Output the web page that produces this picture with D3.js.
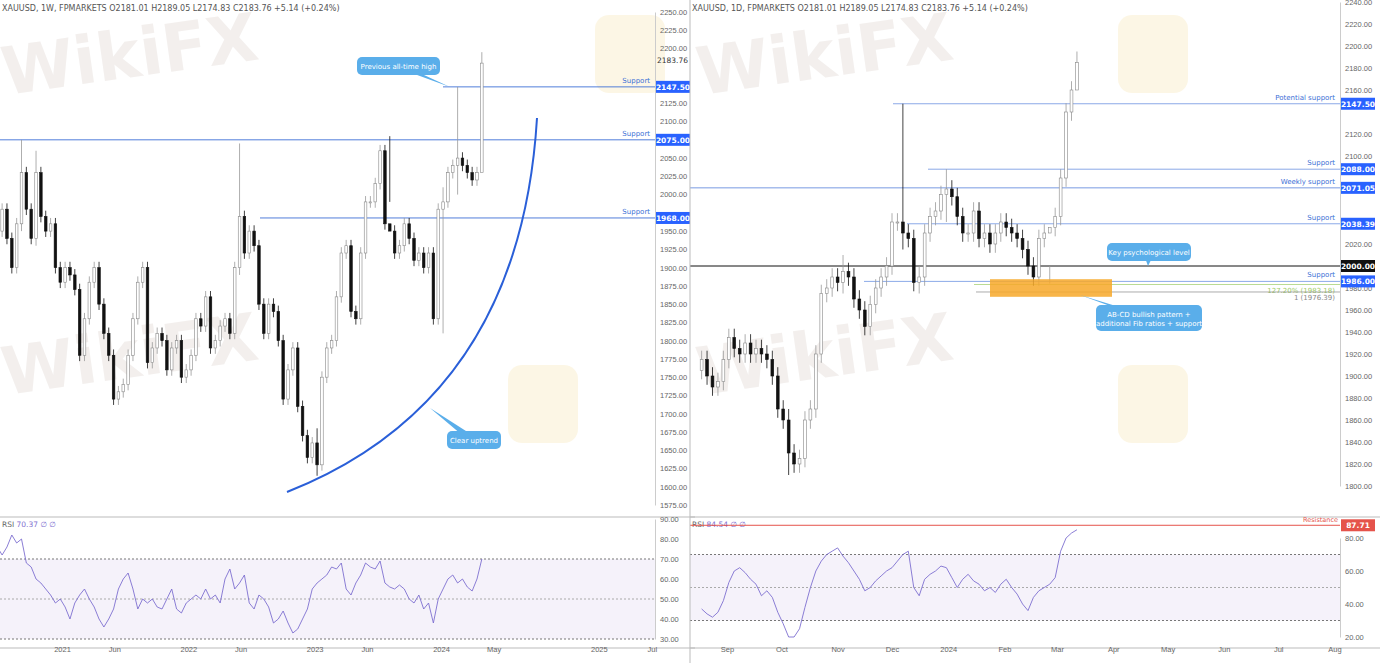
<!DOCTYPE html>
<html><head><meta charset="utf-8">
<script src="https://cdn.jsdelivr.net/npm/d3@7"></script>
<style>body{margin:0;background:#fff;font-family:"DejaVu Sans",sans-serif}</style>
</head><body>
<script>
// weekly panel: closes every 2 weeks
const wClose = [1890,1950,1980,1940,
  1900,1960,2030,1980,1940,2030,1970,1950,1960,1900,1880,1900,1890,1870,1780,1830,1880,
  1900,1850,1810,1780,1720,1730,1740,1780,1830,1880,1900,1770,1790,1810,1800,1760,1790,1800,1750,1760,1780,1830,1820,1860,1790,1800,
  1820,1830,1810,1900,1970,1920,1950,1930,1850,1810,1850,1840,1800,1720,1760,1790,1710,1670,1640,1660,1630,1750,1790,1800,
  1860,1920,1930,1840,1830,1920,1990,1990,2015,2060,1960,1950,1920,1930,1960,1940,1910,1920,1900,1920,1830,1980,1990,2030,2040,2050,
  2040,2030,2020,2030,2180];
const wRsi = [80,82,78,76,
  72,76,82,78,80,68,66,60,58,55,52,48,50,46,40,48,52,
  55,50,46,40,36,40,45,55,60,63,55,45,50,48,50,46,45,50,55,45,43,48,50,52,50,55,
  50,52,48,60,65,55,58,62,48,45,52,50,46,38,40,44,38,33,35,40,45,55,58,60,62,66,
  65,68,55,52,58,62,68,66,65,69,58,56,55,57,55,50,48,52,45,48,38,50,55,60,62,58,
  60,56,54,60,70];
const wExtremes = [[6,2075,1950],[9,2060,1930],[51,2070,1890],[67,1680,1615],[82,2080,1990],[93,2010,1810],[96,2147.5,2000],[101,2195,2075]];
// daily panel: closes every 3 days, ending 2024-03-12
const dClose = [1915,1900,1890,1895,1915,1935,1925,1920,1930,1920,1925,1920,1915,1900,1870,1860,1830,
  1820,1825,1860,1870,1920,1975,1980,1990,1985,1995,
  1990,1970,1960,1945,1965,1980,1990,2000,2040,2040,
  2030,2025,1985,1990,2030,2045,2050,2065,2070,2063,
  2045,2030,2030,2050,2025,2030,2020,2030,2040,2035,
  2030,2025,2015,2000,1990,2025,2030,2035,2045,
  2080,2140,2160,2185];
const dRsi = [37,34,32,35,42,53,60,62,59,55,52,45,48,44,35,28,20,
  20,25,38,50,60,66,70,72,74,69,
  65,60,55,48,50,54,57,60,62,66,
  70,72,50,45,55,58,60,63,62,56,
  50,55,58,54,52,48,50,47,52,55,
  50,46,40,36,44,48,50,52,56,
  72,80,83,85];
const dExtremes = [[16,1870,1810],[26,2010,1975],[37,2147.5,2015],[40,2000,1975],[45,2088,2040],[64,2000,1984],[69,2195,2170]];
const header = ['XAUUSD, 1W, FPMARKETS  O2181.01  H2189.05  L2174.83  C2183.76  +5.14 (+0.24%)',
                'XAUUSD, 1D, FPMARKETS  O2181.01  H2189.05  L2174.83  C2183.76  +5.14 (+0.24%)'];

const W = 1380, H = 663;
const svg = d3.select('body').append('svg').attr('width', W).attr('height', H)
  .style('font-family', '"DejaVu Sans",sans-serif');

// watermarks
[[5,95],[700,95],[5,395],[700,395]].forEach(([x, y]) => {
  svg.append('text').attr('x', x).attr('y', y).attr('font-size', 66).attr('font-weight', 'bold')
    .attr('fill', '#d8ccc6').attr('opacity', 0.3).attr('transform', `rotate(-8,${x},${y})`).text('WikiFX');
});
[[595,15],[1118,15],[508,365],[1118,365]].forEach(([x, y]) => {
  svg.append('rect').attr('x', x).attr('y', y).attr('width', 70).attr('height', 78)
    .attr('rx', 14).attr('fill', '#f6e2a8').attr('opacity', 0.3);
});

function panel(cfg) {
  const g = svg.append('g');
  const datesFor = arr => arr.map((_, i) => d3.timeDay.offset(cfg.end, -cfg.step * (arr.length - 1 - i)));
  const dates = datesFor(cfg.close), rDates = datesFor(cfg.rsi);
  const x = d3.scaleTime().domain(cfg.xDom).range(cfg.xRange);
  const y = d3.scaleLinear().domain(cfg.yDom).range(cfg.yRange);
  const r = d3.scaleLinear().domain(cfg.rDom).range(cfg.rRange);
  const ext = new Map(cfg.ext.map(e => [e[0], e]));
  const candles = cfg.close.map((c, i) => {
    const o = i ? cfg.close[i - 1] : c - 10;
    const e = ext.get(i);
    return {d: dates[i], o, c, h: e ? e[1] : Math.max(o, c) + 8, l: e ? e[2] : Math.min(o, c) - 8};
  });
  g.append('text').attr('x', cfg.x0 + 2).attr('y', 11).attr('font-size', 8).attr('fill', '#555').text(cfg.title);

  const ax = g.append('g').attr('transform', `translate(${cfg.x1},0)`)
    .call(d3.axisRight(y).tickValues(cfg.yTicks).tickSize(0).tickFormat(d3.format('.2f')));
  ax.select('.domain').attr('stroke', '#ccc');
  ax.selectAll('text').attr('font-size', 7.5).attr('fill', '#666').attr('dx', 2);

  cfg.levels.forEach(L => {
    g.append('line').attr('x1', L.from).attr('x2', cfg.x1).attr('y1', y(L.v)).attr('y2', y(L.v))
      .attr('stroke', L.color || '#3d6fd6').attr('stroke-width', L.w || 0.9);
    if (L.label) g.append('text').attr('x', cfg.x1 - 5).attr('y', y(L.v) + (L.below ? 8 : -4)).attr('text-anchor', 'end')
      .attr('font-size', 7).attr('fill', L.lc || '#3d6fd6').text(L.label);
    if (L.tag) {
      g.append('rect').attr('x', cfg.x1 + 1).attr('y', y(L.v) - 6).attr('width', 34).attr('height', 12)
        .attr('fill', L.tagFill || '#2962ff');
      g.append('text').attr('x', cfg.x1 + 18).attr('y', y(L.v) + 3).attr('text-anchor', 'middle')
        .attr('font-size', 7.5).attr('font-weight', 'bold').attr('fill', '#fff').text(L.v.toFixed(2));
    }
  });

  const cg = g.append('g');
  candles.forEach(k => {
    const xc = x(k.d), up = k.c >= k.o;
    cg.append('line').attr('x1', xc).attr('x2', xc).attr('y1', y(k.h)).attr('y2', y(k.l))
      .attr('stroke', up ? '#999' : '#111').attr('stroke-width', 0.8);
    cg.append('rect').attr('x', xc - cfg.bw / 2).attr('width', cfg.bw)
      .attr('y', y(Math.max(k.o, k.c))).attr('height', Math.max(1, Math.abs(y(k.o) - y(k.c))))
      .attr('fill', up ? '#fff' : '#111').attr('stroke', up ? '#888' : '#111').attr('stroke-width', 0.6);
  });

  g.append('line').attr('x1', cfg.x0).attr('x2', cfg.x1 + 40).attr('y1', 517).attr('y2', 517).attr('stroke', '#bbb');
  g.append('line').attr('x1', cfg.x0).attr('x2', cfg.x1 + 40).attr('y1', 648).attr('y2', 648).attr('stroke', '#bbb');

  g.append('rect').attr('x', cfg.x0).attr('width', cfg.x1 - cfg.x0).attr('y', r(70)).attr('height', r(30) - r(70))
    .attr('fill', '#7e57c2').attr('opacity', 0.08);
  [70, 50, 30].forEach(v => g.append('line').attr('x1', cfg.x0).attr('x2', cfg.x1).attr('y1', r(v)).attr('y2', r(v))
    .attr('stroke', v === 50 ? '#aaa' : '#777').attr('stroke-dasharray', '2,2'));
  g.append('path').datum(cfg.rsi).attr('fill', 'none').attr('stroke', '#7e6fd0').attr('stroke-width', 0.9)
    .attr('d', d3.line().x((_, i) => x(rDates[i])).y(v => r(v)));
  const ra = g.append('g').attr('transform', `translate(${cfg.x1},0)`)
    .call(d3.axisRight(r).tickValues(cfg.rTicks).tickSize(0).tickFormat(d3.format('.2f')));
  ra.select('.domain').attr('stroke', '#ccc');
  ra.selectAll('text').attr('font-size', 7.5).attr('fill', '#666').attr('dx', 2);
  g.append('text').attr('x', cfg.x0 + 2).attr('y', 527).attr('font-size', 7.5).attr('fill', '#666')
    .text('RSI  ').append('tspan').attr('fill', '#7e6fd0').text(cfg.rsiLabel + '  ∅  ∅');

  const da = g.append('g').attr('transform', 'translate(0,648)')
    .call(d3.axisBottom(x).tickValues(cfg.xTicks.map(t => t[0])).tickSize(0)
      .tickFormat((d, i) => cfg.xTicks[i][1]));
  da.select('.domain').remove();
  da.selectAll('text').attr('font-size', 7.5).attr('fill', '#666').attr('dy', 1);
  return {x, y, r, g};
}

function bubble(lines, bx, by, bw, bh, px, py) {
  const cx = bx + bw / 2;
  svg.append('path').attr('d', `M${cx - 6},${by + bh / 2} L${px},${py} L${cx + 6},${by + bh / 2}Z`).attr('fill', '#5aaeea');
  svg.append('rect').attr('x', bx).attr('y', by).attr('width', bw).attr('height', bh).attr('rx', 5).attr('fill', '#5aaeea');
  lines.forEach((t, i) => svg.append('text').attr('x', cx).attr('y', by + bh / 2 + 3 + (i - (lines.length - 1) / 2) * 9)
    .attr('text-anchor', 'middle').attr('font-size', 7).attr('fill', '#fff').text(t));
}

// weekly candles are drawn with an offset so they line up with the reference ticks
const L = panel({
  title: header[0], close: wClose, rsi: wRsi, ext: wExtremes, end: new Date(2024, 3, 28), step: 14, bw: 2.6,
  x0: 0, x1: 655, xDom: [new Date(2021, 0, 1), new Date(2024, 0, 1)], xRange: [62, 441],
  yDom: [1575, 2250], yRange: [505, 12], rDom: [30, 90], rRange: [639, 519],
  yTicks: d3.range(1575, 2251, 25).filter(v => ![2150, 2075, 1975, 2175].includes(v)),
  rTicks: [30, 40, 50, 60, 70, 80, 90], rsiLabel: '70.37',
  xTicks: [[new Date(2021,0,1),'2021'],[new Date(2021,5,1),'Jun'],[new Date(2022,0,1),'2022'],[new Date(2022,5,1),'Jun'],
    [new Date(2023,0,1),'2023'],[new Date(2023,5,1),'Jun'],[new Date(2024,0,1),'2024'],[new Date(2024,5,1),'May'],
    [new Date(2025,3,1),'2025'],[new Date(2025,8,1),'Jul']],
  levels: [
    {v: 2147.5, from: 443, label: 'Support', tag: true},
    {v: 2075, from: 0, label: 'Support', tag: true},
    {v: 1968, from: 260, label: 'Support', tag: true}]
});
svg.append('text').attr('x', 657).attr('y', 63).attr('font-size', 7.5).attr('fill', '#333').text('2183.76');

const R = panel({
  title: header[1], close: dClose, rsi: dRsi, ext: dExtremes, end: new Date(2024, 2, 12), step: 3, bw: 2.8,
  x0: 690, x1: 1340, xDom: [new Date(2023, 8, 1), new Date(2024, 2, 1)], xRange: [727, 1057],
  yDom: [1800, 2240], yRange: [486, 2], rDom: [20, 80], rRange: [637, 538],
  yTicks: d3.range(1800, 2241, 20).filter(v => ![2000, 2080, 2060, 2040, 2140].includes(v)),
  rTicks: [20, 40, 60, 80], rsiLabel: '84.54',
  xTicks: [[new Date(2023,8,1),'Sep'],[new Date(2023,9,1),'Oct'],[new Date(2023,10,1),'Nov'],[new Date(2023,11,1),'Dec'],
    [new Date(2024,0,1),'2024'],[new Date(2024,1,1),'Feb'],[new Date(2024,2,1),'Mar'],[new Date(2024,3,1),'Apr'],
    [new Date(2024,4,1),'May'],[new Date(2024,5,1),'Jun'],[new Date(2024,6,1),'Jul'],[new Date(2024,7,1),'Aug']],
  levels: [
    {v: 2147.5, from: 893, label: 'Potential support', tag: true, w: 0.6},
    {v: 2088, from: 928, label: 'Support', tag: true, w: 0.6},
    {v: 2071.05, from: 690, label: 'Weekly support', tag: true, w: 0.7},
    {v: 2038.39, from: 907, label: 'Support', tag: true, w: 0.6},
    {v: 2000, from: 690, color: '#111', tag: true, tagFill: '#111', w: 1},
    {v: 1986, from: 864, label: 'Support', tag: true, w: 0.6},
    {v: 1983.18, from: 974, color: '#9ccc65', w: 0.7, label: '127.20% (1983.18)', lc: '#9ccc65', below: true},
    {v: 1976.39, from: 976, color: '#888', w: 0.7, label: '1 (1976.39)', lc: '#888', below: true}]
});

svg.append('rect').attr('x', 990).attr('width', 122).attr('y', R.y(1988)).attr('height', R.y(1972) - R.y(1988))
  .attr('fill', '#f7a829').attr('opacity', 0.85);
svg.append('line').attr('x1', 690).attr('x2', 1340).attr('y1', R.r(87.71)).attr('y2', R.r(87.71)).attr('stroke', '#e5534b');
svg.append('text').attr('x', 1338).attr('y', R.r(87.71) - 3).attr('text-anchor', 'end').attr('font-size', 6.5).attr('fill', '#e5534b').text('Resistance');
svg.append('rect').attr('x', 1341).attr('y', R.r(87.71) - 6).attr('width', 34).attr('height', 12).attr('fill', '#e5534b');
svg.append('text').attr('x', 1358).attr('y', R.r(87.71) + 3).attr('text-anchor', 'middle').attr('font-size', 7.5)
  .attr('font-weight', 'bold').attr('fill', '#fff').text('87.71');
svg.append('line').attr('x1', 690).attr('x2', 690).attr('y1', 0).attr('y2', H).attr('stroke', '#bbb');

svg.append('path').attr('d', 'M287,492 Q520,400 537,118').attr('fill', 'none').attr('stroke', '#2a5fd8').attr('stroke-width', 2);

bubble(['Previous all-time high'], 357, 57, 83, 18, 450, 87);
bubble(['Clear uptrend'], 447, 431, 54, 18, 430, 408);
bubble(['Key psychological level'], 1107, 243, 84, 18, 1148, 266);
bubble(['AB-CD bullish pattern +', 'additional Fib ratios + support'], 1096, 305, 106, 26, 1080, 295);
</script>
</body></html>
